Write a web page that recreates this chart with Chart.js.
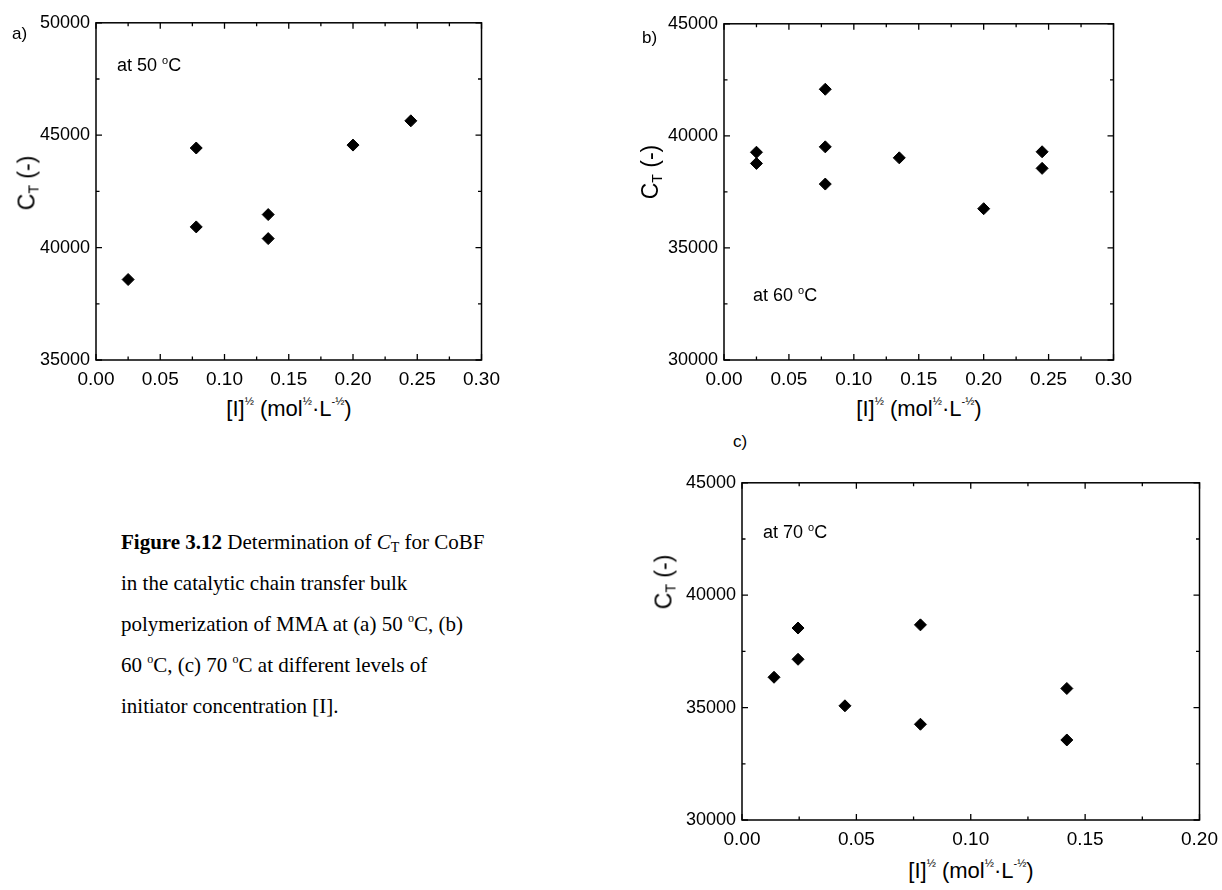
<!DOCTYPE html>
<html>
<head>
<meta charset="utf-8">
<script src="https://cdn.jsdelivr.net/npm/chart.js@4.4.0/dist/chart.umd.min.js"></script>
<style>
  html, body { margin: 0; padding: 0; background: #fff; overflow: hidden; }
  body { width: 1222px; height: 890px; position: relative; font-family: "Liberation Sans", Arial, sans-serif; color: #000; }
  canvas { position: absolute; }
  sup, sub { line-height: 0; }
  .lbl { position: absolute; font-size: 17px; white-space: nowrap; }
  .note { position: absolute; font-size: 18px; white-space: nowrap; }
  .note sup { font-size: 11px; vertical-align: 7px; }
  .xt { position: absolute; font-size: 22px; white-space: nowrap; transform: translateX(-50%); }
  .xt sup { font-size: 11px; vertical-align: 11px; }
  .yt { position: absolute; font-size: 23px; white-space: nowrap; transform: translate(-50%, -50%) rotate(-90deg); }
  .yt sub { font-size: 14px; vertical-align: -4px; }
  .cap { position: absolute; left: 121px; top: 522px; font-family: "Liberation Serif", "Times New Roman", serif; font-size: 21px; line-height: 41px; white-space: nowrap; }
  .cap sup { font-size: 12px; vertical-align: 9px; }
  .cap sub { font-size: 14px; vertical-align: -3px; }
</style>
</head>
<body>
<canvas id="chartA" width="482" height="388" style="left:26px; top:6px;"></canvas>
<canvas id="chartB" width="486" height="387" style="left:654px; top:7px;"></canvas>
<canvas id="chartC" width="554" height="388" style="left:672px; top:466px;"></canvas>

<div class="lbl" style="left:12px; top:24px;">a)</div>
<div class="lbl" style="left:642px; top:28px;">b)</div>
<div class="lbl" style="left:733px; top:432px;">c)</div>

<div class="note" style="left:117px; top:55px;">at 50 <sup>o</sup>C</div>
<div class="note" style="left:753px; top:285px;">at 60 <sup>o</sup>C</div>
<div class="note" style="left:763px; top:522px;">at 70 <sup>o</sup>C</div>

<div class="yt" style="left:27px; top:183px;">C<sub>T</sub> (-)</div>
<div class="yt" style="left:650px; top:172px;">C<sub>T</sub> (-)</div>
<div class="yt" style="left:664px; top:582px;">C<sub>T</sub> (-)</div>

<div class="xt" style="left:289px; top:396px;">[I]<sup>½</sup> (mol<sup>½</sup>·L<sup>-½</sup>)</div>
<div class="xt" style="left:919px; top:396px;">[I]<sup>½</sup> (mol<sup>½</sup>·L<sup>-½</sup>)</div>
<div class="xt" style="left:971px; top:858px;">[I]<sup>½</sup> (mol<sup>½</sup>·L<sup>-½</sup>)</div>

<div class="cap">
  <b>Figure 3.12</b> Determination of <i>C</i><sub>T</sub> for CoBF<br>
  in the catalytic chain transfer bulk<br>
  polymerization of MMA at (a) 50 <sup>o</sup>C, (b)<br>
  60 <sup>o</sup>C, (c) 70 <sup>o</sup>C at different levels of<br>
  initiator concentration [I].
</div>

<script>
'use strict';

// (a) at 50 C
var xA = [0.025, 0.078, 0.078, 0.134, 0.134, 0.200, 0.245];
var yA = [38580, 44430, 40920, 41470, 40400, 44560, 45640];

// (b) at 60 C
var xB = [0.025, 0.025, 0.078, 0.078, 0.078, 0.135, 0.200, 0.245, 0.245];
var yB = [39270, 38770, 42080, 39510, 37850, 39020, 36750, 39290, 38550];

// (c) at 70 C
var xC = [0.014, 0.0245, 0.0245, 0.045, 0.078, 0.078, 0.142, 0.142];
var yC = [36350, 38540, 37150, 35080, 38680, 34260, 35850, 33560];

// tick labels
var xTicksAB = [0, 0.05, 0.10, 0.15, 0.20, 0.25, 0.30];
var xTicksC = [0, 0.05, 0.10, 0.15, 0.20];
var yTicksA = [35000, 40000, 45000, 50000];
var yTicksBC = [30000, 35000, 40000, 45000];

// inward ticks + frame, like the original plot
var frameTicks = {
  id: 'frameTicks',
  afterDraw: function(chart) {
    var c = chart.ctx;
    var a = chart.chartArea;
    var xs = chart.scales.x;
    var ys = chart.scales.y;
    c.save();
    c.strokeStyle = '#000';
    c.lineWidth = 1.3;
    function marks(scale) {
      var out = [];
      var t = scale.ticks;
      for (var i = 0; i < t.length; i++) {
        out.push({ p: scale.getPixelForValue(t[i].value), len: 6 });
        if (i < t.length - 1) {
          out.push({ p: scale.getPixelForValue((t[i].value + t[i + 1].value) / 2), len: 3.5 });
        }
      }
      return out;
    }
    c.beginPath();
    marks(xs).forEach(function(m) {
      c.moveTo(m.p, a.bottom); c.lineTo(m.p, a.bottom - m.len);
      c.moveTo(m.p, a.top); c.lineTo(m.p, a.top + m.len);
    });
    marks(ys).forEach(function(m) {
      c.moveTo(a.left, m.p); c.lineTo(a.left + m.len, m.p);
      c.moveTo(a.right, m.p); c.lineTo(a.right - m.len, m.p);
    });
    c.stroke();
    c.lineWidth = 1.5;
    c.strokeRect(a.left, a.top, a.right - a.left, a.bottom - a.top);
    c.restore();
  }
};

function makeChart(id, xs, ys, xTicks, yTicks, padRight) {
  var pts = [];
  for (var i = 0; i < xs.length; i++) {
    pts.push({ x: xs[i], y: ys[i] });
  }
  return new Chart(document.getElementById(id).getContext('2d'), {
    type: 'scatter',
    data: {
      datasets: [{
        data: pts,
        pointStyle: 'rectRot',
        pointRadius: 6,
        pointBorderWidth: 1,
        backgroundColor: '#000',
        borderColor: '#000'
      }]
    },
    options: {
      responsive: false,
      animation: false,
      devicePixelRatio: 1,
      layout: { padding: { top: 13, right: padRight, left: 0, bottom: 0 } },
      plugins: { legend: { display: false }, tooltip: { enabled: false } },
      scales: {
        x: {
          type: 'linear',
          min: xTicks[0],
          max: xTicks[xTicks.length - 1],
          grid: { display: false, drawTicks: false },
          border: { display: false },
          afterBuildTicks: function(s) { s.ticks = xTicks.map(function(v) { return { value: v }; }); },
          afterFit: function(s) { s.height = 34; },
          ticks: {
            padding: 8,
            color: '#000',
            font: { family: 'Liberation Sans', size: 19 },
            maxRotation: 0,
            autoSkip: false,
            callback: function(v) { return Number(v).toFixed(2); }
          }
        },
        y: {
          type: 'linear',
          min: yTicks[0],
          max: yTicks[yTicks.length - 1],
          grid: { display: false, drawTicks: false },
          border: { display: false },
          afterBuildTicks: function(s) { s.ticks = yTicks.map(function(v) { return { value: v }; }); },
          afterFit: function(s) { s.width = 70; },
          ticks: {
            padding: 6,
            color: '#000',
            font: { family: 'Liberation Sans', size: 18 },
            autoSkip: false,
            callback: function(v) { return String(v); }
          }
        }
      }
    },
    plugins: [frameTicks]
  });
}

var chartA = makeChart('chartA', xA, yA, xTicksAB, yTicksA, 26);
var chartB = makeChart('chartB', xB, yB, xTicksAB, yTicksBC, 26);
var chartC = makeChart('chartC', xC, yC, xTicksC, yTicksBC, 26);
</script>
</body>
</html>
